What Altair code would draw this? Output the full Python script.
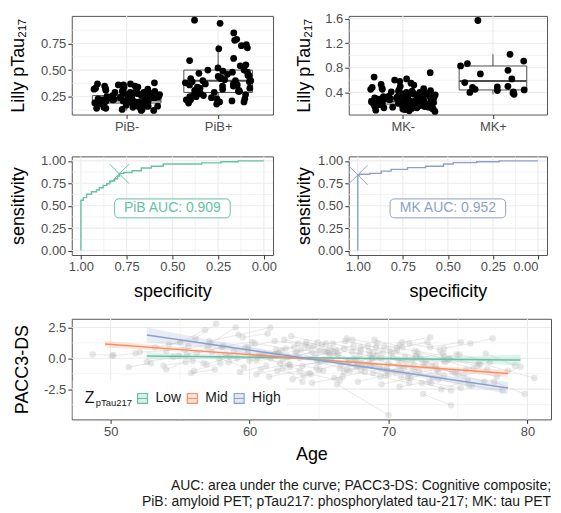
import altair as alt
import pandas as pd

FONT = "Liberation Sans"
GREEN, ORANGE, BLUE = "#66c2a5", "#fc8d62", "#8da0cb"
GRID = "#ebebeb"

# ---------------- top panels: pTau217 by PET status ----------------
pib_names = ["PiB-", "PiB+"]
pib_neg = [0.38, 0.37, 0.37, 0.36, 0.36, 0.35, 0.35, 0.34, 0.34, 0.33, 0.33, 0.32, 0.32, 0.31,
           0.31, 0.30, 0.30, 0.30, 0.29, 0.29, 0.29, 0.28, 0.28, 0.28, 0.28, 0.27, 0.27, 0.27,
           0.26, 0.26, 0.26, 0.26, 0.25, 0.25, 0.25, 0.25, 0.24, 0.24, 0.24, 0.24, 0.23, 0.23,
           0.23, 0.23, 0.23, 0.22, 0.22, 0.22, 0.22, 0.22, 0.21, 0.21, 0.21, 0.21, 0.21, 0.20,
           0.20, 0.20, 0.20, 0.20, 0.19, 0.19, 0.19, 0.19, 0.18, 0.18, 0.18, 0.18, 0.17, 0.17,
           0.17, 0.16, 0.16, 0.16, 0.15, 0.15, 0.15, 0.14, 0.14, 0.13, 0.13, 0.12, 0.12, 0.24,
           0.20, 0.22, 0.19, 0.27, 0.21, 0.25]
pib_pos = [0.97, 0.94, 0.85, 0.79, 0.78, 0.74, 0.73, 0.71, 0.70, 0.61, 0.59, 0.55, 0.54, 0.52,
           0.50, 0.50, 0.49, 0.48, 0.48, 0.47, 0.46, 0.45, 0.45, 0.44, 0.43, 0.42, 0.42, 0.41,
           0.40, 0.40, 0.40, 0.39, 0.39, 0.38, 0.37, 0.37, 0.36, 0.36, 0.35, 0.35, 0.34, 0.33,
           0.33, 0.32, 0.31, 0.31, 0.30, 0.30, 0.29, 0.29, 0.28, 0.28, 0.27, 0.27, 0.26, 0.25,
           0.25, 0.24, 0.23, 0.23, 0.22, 0.22, 0.21, 0.20, 0.20, 0.19, 0.18]
pib_q1 = [0.19, 0.29]
pib_med = [0.215, 0.40]
pib_q3 = [0.26, 0.50]
pib_lo = [0.12, 0.18]
pib_hi = [0.36, 0.74]

mk_names = ["MK-", "MK+"]
mk_neg = [0.72, 0.65, 0.62, 0.60, 0.58, 0.55, 0.53, 0.52, 0.50, 0.48, 0.47, 0.46, 0.45, 0.45,
          0.44, 0.43, 0.42, 0.42, 0.41, 0.40, 0.40, 0.39, 0.38, 0.38, 0.37, 0.37, 0.36, 0.36,
          0.35, 0.35, 0.34, 0.34, 0.33, 0.33, 0.33, 0.32, 0.32, 0.32, 0.31, 0.31, 0.31, 0.30,
          0.30, 0.30, 0.30, 0.29, 0.29, 0.29, 0.29, 0.28, 0.28, 0.28, 0.28, 0.27, 0.27, 0.27,
          0.27, 0.26, 0.26, 0.26, 0.26, 0.26, 0.25, 0.25, 0.25, 0.25, 0.25, 0.24, 0.24, 0.24,
          0.24, 0.24, 0.23, 0.23, 0.23, 0.23, 0.23, 0.22, 0.22, 0.22, 0.22, 0.22, 0.21, 0.21,
          0.21, 0.21, 0.21, 0.20, 0.20, 0.20, 0.20, 0.20, 0.19, 0.19, 0.19, 0.19, 0.18, 0.18,
          0.18, 0.18, 0.17, 0.17, 0.17, 0.17, 0.16, 0.16, 0.16, 0.15, 0.15, 0.15, 0.14, 0.14,
          0.13, 0.13, 0.12, 0.12, 0.11, 0.10, 0.09]
mk_pos = [1.57, 1.02, 0.91, 0.87, 0.83, 0.76, 0.70, 0.62, 0.56, 0.50, 0.49, 0.48, 0.45, 0.44,
          0.43, 0.41, 0.40, 0.39, 0.37]
mk_q1 = [0.21, 0.44]
mk_med = [0.25, 0.585]
mk_q3 = [0.30, 0.83]
mk_lo = [0.09, 0.37]
mk_hi = [0.44, 1.02]

# ---------------- ROC curves ----------------
pib_spec = [1.0, 1.0, 0.987, 0.987, 0.969, 0.969, 0.942, 0.942, 0.915, 0.915, 0.90, 0.90, 0.878,
            0.878, 0.859, 0.859, 0.842, 0.842, 0.816, 0.816, 0.80, 0.80, 0.79, 0.79, 0.766,
            0.766, 0.72, 0.72, 0.67, 0.67, 0.615, 0.615, 0.55, 0.55, 0.34, 0.34, 0.235, 0.235,
            0.14, 0.14, 0.0]
pib_sens = [0.0, 0.56, 0.56, 0.59, 0.59, 0.627, 0.627, 0.656, 0.656, 0.675, 0.675, 0.70, 0.70,
            0.727, 0.727, 0.745, 0.745, 0.775, 0.775, 0.80, 0.80, 0.83, 0.83, 0.86, 0.86, 0.87,
            0.87, 0.89, 0.89, 0.92, 0.92, 0.94, 0.94, 0.965, 0.965, 0.977, 0.977, 0.99, 0.99,
            1.0, 1.0]
pib_cut = (0.79, 0.855)
pib_auc = "PiB AUC: 0.909"

mk_spec = [1.0, 1.0, 0.99, 0.99, 0.933, 0.933, 0.87, 0.87, 0.815, 0.815, 0.724, 0.724, 0.624,
           0.624, 0.524, 0.524, 0.47, 0.47, 0.34, 0.34, 0.215, 0.215, 0.0]
mk_sens = [0.0, 0.843, 0.843, 0.85, 0.85, 0.86, 0.86, 0.885, 0.885, 0.905, 0.905, 0.925, 0.925,
           0.94, 0.94, 0.965, 0.965, 0.98, 0.98, 0.99, 0.99, 1.0, 1.0]
mk_cut = (1.0, 0.843)
mk_auc = "MK AUC: 0.952"

# ---------------- PACC3-DS trajectories ----------------
subj_age = [
    [48.7, 50.2], [50.1, 51.8], [51.3, 52.9], [52.1, 54.0, 55.6], [52.6, 54.5],
    [53.2, 55.0, 56.8], [53.8, 55.9], [54.2, 56.1, 57.6], [54.9, 56.7], [55.3, 57.2, 59.0],
    [55.8, 57.5], [56.2, 58.0, 59.9], [56.9, 58.6], [57.1, 59.2, 61.5], [57.8, 59.6],
    [58.1, 60.2], [58.5, 60.7, 62.3], [58.9, 60.9], [59.3, 61.2], [59.7, 61.8, 63.5],
    [60.0, 62.1], [60.4, 62.6], [60.8, 62.9, 64.8], [61.1, 63.2], [61.4, 63.6],
    [61.9, 64.0, 66.1], [62.2, 64.3], [62.5, 64.6], [62.8, 65.0, 67.2], [63.1, 65.3],
    [63.4, 65.5], [63.8, 65.9, 68.0], [64.1, 66.2], [64.4, 66.5], [64.7, 66.8, 68.9],
    [65.0, 67.1], [65.2, 67.4], [65.5, 67.7, 69.8], [65.8, 67.9], [66.1, 68.3],
    [66.3, 68.5, 70.6], [66.6, 68.8], [66.9, 69.1], [67.2, 69.4, 71.5], [67.5, 69.6],
    [67.8, 70.0], [68.0, 70.2, 72.3], [68.3, 70.5], [68.6, 70.8], [68.9, 71.1, 73.2],
    [69.2, 71.3], [69.5, 71.6], [69.7, 71.9, 74.0], [70.0, 72.2], [66.3, 70.0],
    [70.6, 72.8], [70.9, 73.1, 75.2], [71.2, 73.4], [71.5, 73.7], [71.8, 74.0],
    [72.1, 74.3, 76.4], [72.4, 74.5], [72.7, 74.9], [73.0, 75.2], [74.0, 75.9, 77.5],
    [73.6, 75.8], [74.0, 76.1], [72.5, 74.5], [74.8, 76.9], [75.1, 77.3],
    [75.6, 77.8, 79.5], [76.0, 78.2], [76.5, 78.6, 80.5], [77.0, 79.1], [77.6, 79.8],
    [59.5, 61.3], [63.0, 64.9], [61.5, 63.8], [64.5, 66.7], [67.0, 69.2],
    [69.0, 71.0], [71.0, 73.0], [56.0, 57.9], [60.5, 62.4], [62.0, 63.9],
    [65.6, 67.6], [68.8, 70.7], [70.8, 72.9], [73.8, 75.7], [66.0, 68.0],
    [58.3, 60.5, 62.7], [59.9, 62.0], [61.6, 63.7, 65.8], [62.9, 65.1], [63.6, 65.7, 67.8],
    [64.2, 66.4], [64.9, 67.0, 69.0], [65.4, 67.5], [66.8, 68.7, 70.9], [67.4, 69.5],
    [68.1, 70.3, 72.5], [68.7, 70.9], [69.4, 71.4, 73.5], [70.1, 72.0], [70.7, 72.6, 74.6],
    [71.4, 73.6], [72.0, 74.1], [73.1, 75.0], [74.4, 76.6], [75.4, 77.1],
    [57.3, 59.1], [55.5, 57.0], [54.0, 55.4], [60.6, 62.8], [63.3, 65.4],
    [67.7, 69.9], [69.9, 71.8], [71.7, 73.9], [66.5, 68.6], [62.4, 64.5],
]
subj_pacc = [
    [0.3, 0.25], [0.2, 0.4], [-0.7, -0.4], [0.5, 0.6, 1.0], [-0.3, 0.1],
    [0.9, 1.3, 2.3], [-0.6, -0.2], [1.1, 1.6, 2.8], [0.2, -0.4], [0.7, 1.2, 2.5],
    [-1.2, -0.9], [0.4, 0.9, 0.6], [-0.5, 0.1], [1.4, 1.9, 2.5], [0.0, -0.7],
    [1.0, 1.3], [-0.3, 0.3, 0.6], [0.6, 0.2], [-1.1, -0.6], [0.9, 1.4, 1.2],
    [-0.2, 0.4], [1.2, 0.8], [-0.9, -0.5, -0.8], [0.3, 0.9], [-1.5, -1.0],
    [0.7, 1.1, 0.5], [-0.4, -1.2], [1.5, 1.0], [0.1, 0.6, -0.2], [-1.7, -1.0],
    [0.5, 1.2], [-0.6, -0.1, -0.9], [1.3, 0.7], [-1.3, -1.8], [0.2, 0.8, 0.4],
    [-0.9, -0.3], [1.1, 1.5], [-0.2, -0.7, -1.4], [0.8, 0.3], [-1.6, -1.1],
    [0.4, 1.0, 0.6], [-0.5, 0.0], [1.4, 0.9], [-1.0, -1.5, -2.0], [0.0, 0.5],
    [-1.9, -1.3], [0.9, 0.4, 0.1], [-0.7, -1.2], [0.6, 1.1], [-1.2, -0.8, -1.6],
    [0.3, -0.3], [-2.1, -1.6], [1.0, 0.6, 0.2], [-0.4, -1.0], [-2.1, -4.6],
    [0.8, 1.3], [-1.5, -2.0, -2.4], [0.1, -0.5], [1.2, 0.7], [-0.9, -1.4],
    [0.5, -0.1, -0.6], [-2.0, -2.6], [-0.3, 0.3], [0.9, 1.3], [0.8, 1.2, 1.6],
    [-1.7, -2.2], [-0.2, -0.8], [-2.9, -3.8], [-1.2, -1.9], [0.3, -0.3],
    [-0.9, -1.5, -0.7], [-2.2, -2.6], [-0.4, -1.0, -1.6], [0.4, -0.6], [-1.9, -2.9],
    [1.7, 2.0], [1.8, 1.3], [0.0, -1.9], [-2.0, -1.5], [1.6, 1.2],
    [1.5, 0.9], [1.3, 1.7], [-1.0, -0.4], [-1.3, -0.8], [-1.0, -1.4],
    [0.5, -0.1], [0.0, -0.6], [-2.3, -1.9], [-2.5, -1.8], [1.2, 0.6],
    [0.3, -0.2, 0.1], [0.9, 0.4], [0.2, 0.7, 0.3], [-0.7, -0.3], [0.0, 0.4, -0.5],
    [0.9, 0.3], [-0.3, -0.9, -0.6], [0.6, 1.0], [-1.1, -0.6, -1.0], [0.5, 0.0],
    [-0.4, 0.1, -0.3], [0.2, -0.2], [-0.8, -1.3, -0.9], [0.6, 0.2], [-0.1, -0.6, -1.1],
    [-1.6, -1.1], [0.2, -0.3], [-0.6, -1.3], [0.0, -0.5], [-1.4, -0.9],
    [0.5, 0.0], [0.3, 0.9], [-0.9, -0.3], [0.1, -0.5], [0.4, -0.1],
    [-0.2, -0.8], [-1.0, -0.5], [-0.1, 0.4], [-0.8, -0.4], [-0.1, 0.5],
]

groups = ["Low", "Mid", "High"]
fit_age = {"Low": [52.6, 59.0, 65.5, 72.0, 79.5],
           "Mid": [49.6, 57.0, 64.0, 71.0, 78.6],
           "High": [52.6, 59.0, 65.5, 72.0, 78.6]}
fit_val = {"Low": [0.19, 0.11, 0.03, -0.05, -0.14],
           "Mid": [1.15, 0.54, -0.03, -0.60, -1.23],
           "High": [1.89, 0.83, -0.24, -1.31, -2.40]}
fit_lo = {"Low": [-0.10, -0.05, -0.07, -0.22, -0.59],
          "Mid": [0.87, 0.40, -0.12, -0.74, -1.53],
          "High": [1.29, 0.55, -0.38, -1.49, -2.90]}
fit_hi = {"Low": [0.48, 0.27, 0.13, 0.12, 0.31],
          "Mid": [1.43, 0.68, 0.06, -0.46, -0.93],
          "High": [2.49, 1.11, -0.10, -1.13, -1.90]}

caption = ["AUC: area under the curve; PACC3-DS: Cognitive composite;",
           "PiB: amyloid PET; pTau217: phosphorylated tau-217; MK: tau PET"]

LW, RW, GAP, BW = 202, 199, 76, 481


def rules_x(vals, scale, axis, width):
    return alt.Chart(pd.DataFrame({"g": vals})).mark_rule(color=GRID, strokeWidth=width).encode(
        x=alt.X("g:Q", scale=scale, axis=axis))


def rules_y(vals, scale, axis, width):
    return alt.Chart(pd.DataFrame({"g": vals})).mark_rule(color=GRID, strokeWidth=width).encode(
        y=alt.Y("g:Q", scale=scale, axis=axis))


def top_panel(neg, pos, names, q1, med, q3, lo, hi, ydom, ymajor, yminor, fmt, tx, w):
    xs = alt.Scale(domain=[0.4, 2.6], nice=False, zero=False)
    ys = alt.Scale(domain=ydom, nice=False, zero=False)
    xax = alt.Axis(values=[1, 2], title=None, grid=False,
                   labelExpr=f"datum.value == 1 ? '{names[0]}' : '{names[1]}'")
    yax = alt.Axis(values=ymajor, format=fmt, title="Lilly pTau₂₁₇", grid=False, titleX=tx)
    pts = pd.DataFrame({"cat": [1] * len(neg) + [2] * len(pos), "v": neg + pos})
    box = pd.DataFrame({"cat": [1, 2], "q1": q1, "med": med, "q3": q3, "lo": lo, "hi": hi})
    bb = alt.Chart(box).transform_calculate(x1="datum.cat - 0.375", x2="datum.cat + 0.375")
    layers = [
        rules_y(yminor, ys, yax, 0.6),
        rules_y(ymajor, ys, yax, 1.1),
        rules_x([1, 2], xs, xax, 1.1),
        bb.mark_rule(color="#4d4d4d", strokeWidth=1).encode(
            x=alt.X("cat:Q", scale=xs, axis=xax), y=alt.Y("lo:Q", scale=ys, axis=yax), y2="hi:Q"),
        bb.mark_rect(fill="white", stroke="#4d4d4d", strokeWidth=1).encode(
            x=alt.X("x1:Q", scale=xs, axis=xax), x2="x2:Q",
            y=alt.Y("q1:Q", scale=ys, axis=yax), y2="q3:Q"),
        bb.mark_rule(color="#4d4d4d", strokeWidth=2).encode(
            x=alt.X("x1:Q", scale=xs, axis=xax), x2="x2:Q", y=alt.Y("med:Q", scale=ys, axis=yax)),
        alt.Chart(pts).transform_window(i="row_number()").transform_calculate(
            xj="datum.cat + 0.72 * ((abs(sin(datum.i * 12.9898) * 43758.5453) % 1) - 0.5)"
        ).mark_circle(size=46, color="black", opacity=1).encode(
            x=alt.X("xj:Q", scale=xs, axis=xax), y=alt.Y("v:Q", scale=ys, axis=yax)),
    ]
    return alt.layer(*layers).properties(width=w, height=99)


def roc_panel(spec, sens, color, cut, label, tx, w, last_right=False):
    xs = alt.Scale(domain=[-0.05, 1.05], reverse=True, nice=False, zero=False)
    ys = alt.Scale(domain=[-0.05, 1.05], nice=False, zero=False)
    major = [0, 0.25, 0.5, 0.75, 1.0]
    minor = [0.125, 0.375, 0.625, 0.875]
    xkw = dict(values=major, format=".2f", title="specificity", grid=False, titleY=28)
    if last_right:
        xkw["labelAlign"] = {"condition": {"test": "datum.value == 0", "value": "right"},
                             "value": "center"}
    xax = alt.Axis(**xkw)
    yax = alt.Axis(values=major, format=".2f", title="sensitivity", grid=False, titleX=tx)
    df = pd.DataFrame({"spec": spec, "sens": sens, "o": list(range(len(spec)))})
    cdf = pd.DataFrame({"spec": [cut[0]], "sens": [cut[1]]})
    ldf = pd.DataFrame({"spec": [0.5], "sens": [0.47], "lab": [label]})
    layers = [
        rules_x(minor, xs, xax, 0.6), rules_y(minor, ys, yax, 0.6),
        rules_x(major, xs, xax, 1.1), rules_y(major, ys, yax, 1.1),
        alt.Chart(df).mark_line(color=color, strokeWidth=1.4).encode(
            x=alt.X("spec:Q", scale=xs, axis=xax), y=alt.Y("sens:Q", scale=ys, axis=yax),
            order="o:Q"),
        alt.Chart(cdf).mark_point(shape="M-1,-1L1,1M-1,1L1,-1", size=380, color=color,
                                  strokeWidth=1, filled=False, opacity=1).encode(
            x=alt.X("spec:Q", scale=xs, axis=xax), y=alt.Y("sens:Q", scale=ys, axis=yax)),
        alt.Chart(ldf).mark_rect(width=116, height=19, cornerRadius=4, fill="white",
                                 stroke=color, strokeWidth=1).encode(
            x=alt.X("spec:Q", scale=xs, axis=xax), y=alt.Y("sens:Q", scale=ys, axis=yax)),
        alt.Chart(ldf).mark_text(color=color, fontSize=14, font=FONT).encode(
            x=alt.X("spec:Q", scale=xs, axis=xax), y=alt.Y("sens:Q", scale=ys, axis=yax),
            text="lab:N"),
    ]
    return alt.layer(*layers).properties(width=w, height=99)


def bottom_panel():
    xs = alt.Scale(domain=[47.2, 81.7], nice=False, zero=False)
    ys = alt.Scale(domain=[-4.95, 3.2], nice=False, zero=False)
    xax = alt.Axis(values=[50, 60, 70, 80], title="Age", grid=False, titleY=26)
    yax = alt.Axis(values=[-2.5, 0, 2.5], title="PACC3-DS", grid=False, titleX=-40,
                   labelExpr="replace(format(datum.value, '.1f'), '−', '-')")
    rows = []
    for s, (ages, vals) in enumerate(zip(subj_age, subj_pacc)):
        for a, v in zip(ages, vals):
            rows.append({"subj": s, "age": a, "pacc": v})
    traj = pd.DataFrame(rows)
    frows = []
    for g in groups:
        for a, f, l, h in zip(fit_age[g], fit_val[g], fit_lo[g], fit_hi[g]):
            frows.append({"grp": g, "age": a, "fit": f, "lo": l, "hi": h})
    fits = pd.DataFrame(frows)
    X = alt.X("age:Q", scale=xs, axis=xax)
    layers = [
        rules_x([55, 65, 75], xs, xax, 0.6), rules_y([-3.75, -1.25, 1.25], ys, yax, 0.6),
        rules_x([50, 60, 70, 80], xs, xax, 1.1), rules_y([-2.5, 0, 2.5], ys, yax, 1.1),
        alt.Chart(traj).mark_line(color="#c4c4c4", strokeWidth=0.7, opacity=0.55).encode(
            x=X, y=alt.Y("pacc:Q", scale=ys, axis=yax), detail="subj:N"),
        alt.Chart(traj).mark_circle(size=42, color="#b5b5b5", opacity=0.32).encode(
            x=X, y=alt.Y("pacc:Q", scale=ys, axis=yax)),
    ]
    for g, col in zip(groups, [GREEN, ORANGE, BLUE]):
        sub = fits[fits.grp == g]
        layers.append(alt.Chart(sub).mark_area(color=col, opacity=0.2, interpolate="monotone").encode(
            x=X, y=alt.Y("lo:Q", scale=ys, axis=yax), y2="hi:Q"))
        layers.append(alt.Chart(sub).mark_line(color=col, strokeWidth=1.5).encode(
            x=X, y=alt.Y("fit:Q", scale=ys, axis=yax)))
    one = pd.DataFrame({"k": [0]})
    # legend (inside panel, bottom-left)
    layers.append(alt.Chart(one).mark_rect(fill="white").encode(
        x=alt.value(1), x2=alt.value(215), y=alt.value(62), y2=alt.value(100)))
    layers.append(alt.Chart(one).mark_text(text="Z", fontSize=16, font=FONT, align="left",
                                           baseline="middle", color="#1a1a1a").encode(
        x=alt.value(13), y=alt.value(80)))
    layers.append(alt.Chart(one).mark_text(text="pTau217", fontSize=9.5, font=FONT, align="left",
                                           baseline="middle", color="#1a1a1a").encode(
        x=alt.value(24), y=alt.value(85)))
    sym = "M-1,-1L1,-1L1,1L-1,1Z M-1,0L1,0"
    for g, col, sx in zip(groups, [GREEN, ORANGE, BLUE], [71, 121, 168]):
        layers.append(alt.Chart(one).mark_point(shape=sym, size=100, fill=col, fillOpacity=0.25,
                                                stroke=col, strokeWidth=1.2, opacity=1).encode(
            x=alt.value(sx), y=alt.value(80)))
        layers.append(alt.Chart(one).mark_text(text=g, fontSize=14, font=FONT, align="left",
                                               baseline="middle", color="#1a1a1a").encode(
            x=alt.value(sx + 13), y=alt.value(80)))
    # caption below the chart
    for line, cy in zip(caption, [168, 184]):
        layers.append(alt.Chart(one).mark_text(text=line, fontSize=14, font=FONT, align="right",
                                               baseline="middle", color="#1a1a1a").encode(
            x=alt.value(BW), y=alt.value(cy)))
    return alt.layer(*layers).properties(width=BW, height=101)


tl = top_panel(pib_neg, pib_pos, pib_names, pib_q1, pib_med, pib_q3, pib_lo, pib_hi,
               [0.082, 1.01], [0.25, 0.5, 0.75], [0.125, 0.375, 0.625, 0.875], ".2f", -44, LW)
tr = top_panel(mk_neg, mk_pos, mk_names, mk_q1, mk_med, mk_q3, mk_lo, mk_hi,
               [0.04, 1.645], [0.4, 0.8, 1.2, 1.6], [0.2, 0.6, 1.0, 1.4], ".1f", -35, RW)
rl = roc_panel(pib_spec, pib_sens, GREEN, pib_cut, pib_auc, -44, LW)
rr = roc_panel(mk_spec, mk_sens, BLUE, mk_cut, mk_auc, -35, RW, last_right=True)

row1 = alt.hconcat(tl, tr, spacing=GAP, bounds="flush")
row2 = alt.hconcat(rl, rr, spacing=GAP, bounds="flush")
upper = alt.vconcat(row1, row2, spacing=20)

chart = alt.vconcat(upper, bottom_panel(), spacing=15).properties(
    padding={"left": 1, "top": 3, "right": 0, "bottom": 0},
    background="white",
).configure_view(
    stroke="#555555", strokeWidth=1
).configure_axis(
    labelFont=FONT, titleFont=FONT, labelFontSize=13, titleFontSize=18,
    labelColor="#4d4d4d", titleColor="#000000", titleFontWeight="normal",
    tickColor="#333333", tickSize=4, domain=False, labelPadding=2, titlePadding=4,
)

chart.save("out.html", embed_options={"renderer": "svg", "actions": False})
